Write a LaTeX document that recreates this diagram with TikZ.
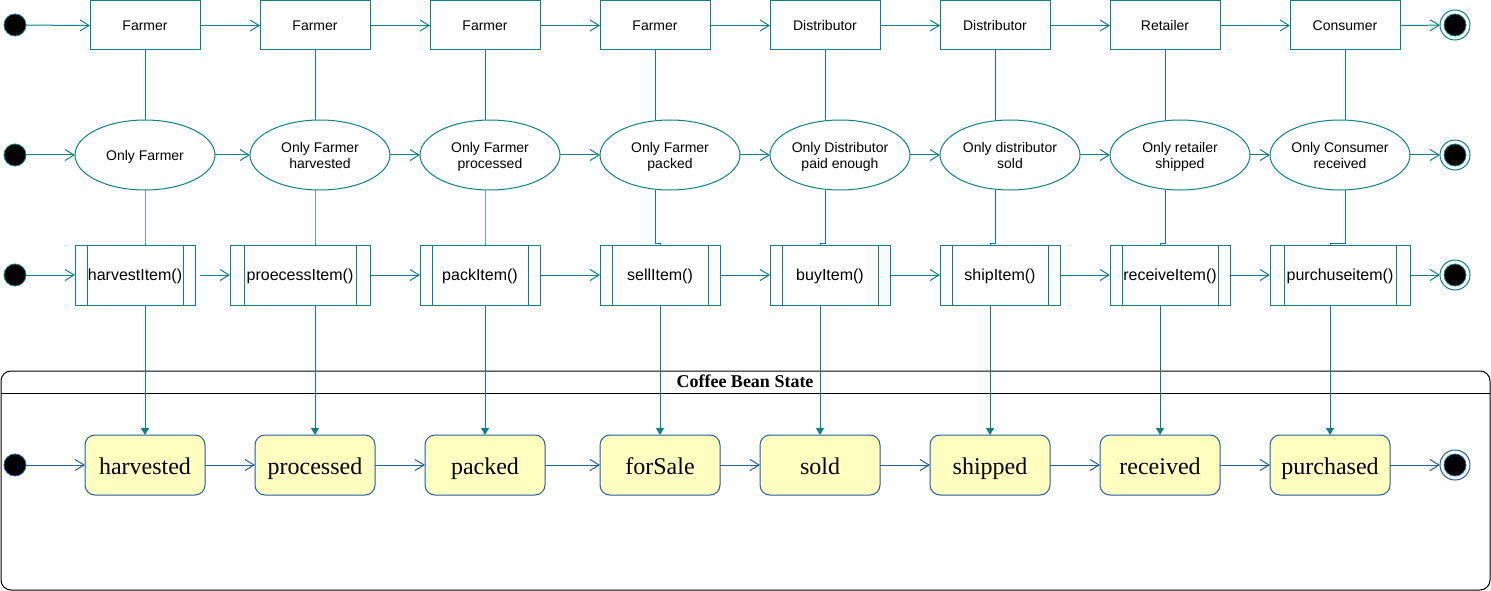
\documentclass[tikz,border=0pt]{standalone}
\usepackage{fontspec}
\setmainfont{Liberation Serif}
\newfontfamily\arialf{Liberation Sans}
\usetikzlibrary{arrows.meta,shapes.geometric,calc}
\definecolor{teal1}{HTML}{0E8088}
\definecolor{stblue}{HTML}{1E5FA6}
\definecolor{stfill}{HTML}{FFFFC0}
\begin{document}
\begin{tikzpicture}[x=1pt,y=-1pt,
  every node/.style={inner sep=0pt, outer sep=0pt},
  actor/.style={draw=teal1, line width=1pt, minimum width=110pt, minimum height=49pt, text height=11pt, text depth=0pt, font=\arialf\fontsize{14}{16}\selectfont},
  guard/.style={ellipse, draw=teal1, line width=1pt, minimum width=140pt, minimum height=70pt, align=center, text height=11pt, text depth=0pt, font=\arialf\fontsize{14}{16}\selectfont},
  guardtwo/.style={guard, text height=26pt, text depth=0pt},
  func/.style={draw=teal1, line width=1pt, minimum height=60pt, text height=11.5pt, text depth=0pt, font=\arialf\fontsize{16}{18}\selectfont},
  cstate/.style={draw=stblue, fill=stfill, rounded corners=10pt, line width=1pt, minimum width=120pt, minimum height=60pt, text height=20pt, text depth=2pt, font=\fontsize{24}{28}\selectfont},
  startdot/.style={circle, fill=black, draw=#1, line width=0.8pt, minimum size=22pt},
  endring/.style={circle, draw=#1, line width=1pt, minimum size=30pt},
  enddot/.style={circle, fill=black, draw=#1, line width=0.8pt, minimum size=22pt},
  flow/.style={draw=teal1, line width=1pt, -{Straight Barb[length=9pt,width=11pt]}},
  link/.style={draw=teal1, line width=1pt},
  downarrow/.style={draw=teal1, line width=1pt, -{Triangle[length=7pt,width=8pt]}},
  sflow/.style={draw=stblue, line width=1pt, -{Straight Barb[length=9pt,width=11pt]}},
]
\useasboundingbox (0,0) rectangle (1491,591);

% container
\draw[line width=1pt, rounded corners=10pt] (1,371) rectangle (1490,590);
\coordinate (hl) at (1,393);
\coordinate (hr) at (1490,393);
\draw[line width=1pt] (hl) -- (hr);
\node[font=\bfseries\fontsize{18}{20}\selectfont, text height=13pt, text depth=0pt] (title) at (745,381) {Coffee Bean State};

% row 1
\foreach \i/\x/\t in {1/145/Farmer,2/315/Farmer,3/485/Farmer,4/655/Farmer,5/825/Distributor,6/995/Distributor,7/1165/Retailer,8/1345/Consumer}
  \node[actor] (r\i) at (\x,25.5) {\t};
% row 2
\node[guard] (e1) at (145,155) {Only Farmer};
\foreach \i/\x/\t in {2/320/{Only Farmer\\harvested},3/490/{Only Farmer\\processed},4/670/{Only Farmer\\packed},5/840/{Only Distributor\\paid enough},6/1010/{Only distributor\\sold},7/1180/{Only retailer\\shipped},8/1340/{Only Consumer\\received}}
  \node[guardtwo] (e\i) at (\x,155) {\t};
% row 3
\foreach \i/\x/\w/\o/\t in {1/135/120/12/{harvestItem()},2/300/140/14/{proecessItem()},3/480/120/12/{packItem()},4/660/120/12/{sellItem()},5/830/120/12/{buyItem()},6/1000/120/12/{shipItem()},7/1170/120/12/{receiveItem()},8/1340/140/14/{purchuseitem()}}{
  \node[func, minimum width=\w pt] (b\i) at (\x,275) {\t};
  \draw[link] ([xshift=\o pt]b\i.north west) -- ([xshift=\o pt]b\i.south west);
  \draw[link] ([xshift=-\o pt]b\i.north east) -- ([xshift=-\o pt]b\i.south east);
}
% row 4
\foreach \i/\x/\t in {1/145/harvested,2/315/processed,3/485/packed,4/660/forSale,5/820/sold,6/990/shipped,7/1160/received,8/1330/purchased}
  \node[cstate] (s\i) at (\x,465) {\t};

% start / end points
\foreach \j/\y in {1/25,2/155,3/275}{
  \node[startdot=teal1] (i\j) at (15,\y) {};
  \node[endring=teal1] (f\j) at (1455,\y) {};
  \node[enddot=teal1] (fd\j) at (1455,\y) {};
}
\node[startdot=stblue] (i4) at (15,465) {};
\node[endring=stblue] (f4) at (1455,465) {};
\node[enddot=stblue] (fd4) at (1455,465) {};

% horizontal flows
\draw[flow] (i1) -- (r1.west);
\draw[flow] (i2) -- (e1.west);
\draw[flow] (i3) -- (b1.west);
\draw[sflow] (i4) -- (s1.west);
\foreach \i in {1,...,7}{
  \pgfmathtruncatemacro\j{\i+1}
  \draw[flow] (r\i.east) -- (r\j.west);
  \draw[flow] (e\i.east) -- (e\j.west);
  \draw[sflow] (s\i.east) -- (s\j.west);
}
\draw[flow, shorten <=5pt] (b1.east) -- (b2.west);
\foreach \i in {2,...,7}{
  \pgfmathtruncatemacro\j{\i+1}
  \draw[flow] (b\i.east) -- (b\j.west);
}
\draw[flow] (r8.east) -- (f1);
\draw[flow] (e8.east) -- (f2);
\draw[flow] (b8.east) -- (f3);
\draw[sflow] (s8.east) -- (f4);

% vertical links
\foreach \i in {1,...,8}{
  \draw[link] (r\i.south) -- (r\i.south |- e\i.north);
  \draw[link] (r\i.south |- e\i.south) -- ($(r\i.south |- b\i.north)+(0,-2)$) -| (s\i.north |- b\i.north);
  \draw[downarrow] (s\i.north |- b\i.south) -- (s\i.north);
}
\end{tikzpicture}
\end{document}
